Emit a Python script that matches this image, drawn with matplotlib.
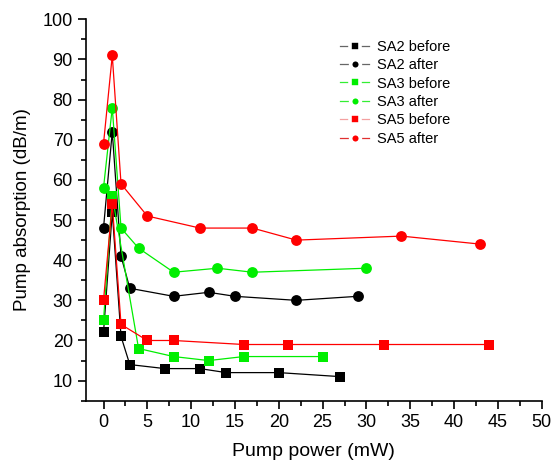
import matplotlib
matplotlib.use("Agg")
import matplotlib.pyplot as plt
from matplotlib.ticker import MultipleLocator
from matplotlib.lines import Line2D

plt.rcParams['font.family'] = ['Liberation Sans', 'DejaVu Sans']

sa2_before_x = [0, 1, 2, 3, 7, 11, 14, 20, 27]
sa2_before_y = [22, 52, 21, 14, 13, 13, 12, 12, 11]
sa2_after_x = [0, 1, 2, 3, 8, 12, 15, 22, 29]
sa2_after_y = [48, 72, 41, 33, 31, 32, 31, 30, 31]
sa3_before_x = [0, 1, 4, 8, 12, 16, 25]
sa3_before_y = [25, 56, 18, 16, 15, 16, 16]
sa3_after_x = [0, 1, 2, 4, 8, 13, 17, 30]
sa3_after_y = [58, 78, 48, 43, 37, 38, 37, 38]
sa5_before_x = [0, 1, 2, 5, 8, 16, 21, 32, 44]
sa5_before_y = [30, 54, 24, 20, 20, 19, 19, 19, 19]
sa5_after_x = [0, 1, 2, 5, 11, 17, 22, 34, 43]
sa5_after_y = [69, 91, 59, 51, 48, 48, 45, 46, 44]

labels = ["SA2 before", "SA2 after", "SA3 before", "SA3 after", "SA5 before", "SA5 after"]
colors = ["black", "black", "#00ee00", "#00ee00", "#ff0000", "#ff0000"]
legend_line_colors = ["#666666", "#666666", "#33ee33", "#33ee33", "#f4a0a0", "#e03030"]
markers = ["s", "o", "s", "o", "s", "o"]
series = [(sa2_before_x, sa2_before_y), (sa2_after_x, sa2_after_y),
          (sa3_before_x, sa3_before_y), (sa3_after_x, sa3_after_y),
          (sa5_before_x, sa5_before_y), (sa5_after_x, sa5_after_y)]

fig = plt.figure(figsize=(5.54, 4.66), dpi=100)
ax = fig.add_axes([0.1552, 0.1401, 0.8226, 0.8185])

handles = []
for (x, y), lab, c, lc, m in zip(series, labels, colors, legend_line_colors, markers):
    ax.plot(x, y, color=c, marker=m, markersize=7.3 if m == 's' else 7.8,
            linewidth=0.9, markeredgewidth=0)
    handles.append(Line2D([], [], color=lc, linewidth=0.9, marker=m,
                          markersize=6.6 if m == 's' else 7.0,
                          markerfacecolor=c, markeredgecolor='white',
                          markeredgewidth=2.6, label=lab))

ax.set_xlim(-2, 50)
ax.set_ylim(5, 100)
ax.xaxis.set_major_locator(MultipleLocator(5))
ax.xaxis.set_minor_locator(MultipleLocator(2.5))
ax.yaxis.set_major_locator(MultipleLocator(10))
ax.yaxis.set_minor_locator(MultipleLocator(5))
ax.set_yticks(range(10, 101, 10))
for s in ['top', 'right']:
    ax.spines[s].set_visible(False)
for s in ['left', 'bottom']:
    ax.spines[s].set_linewidth(1.2)
ax.tick_params(which='major', direction='out', length=6, width=1.2, labelsize=13)
ax.tick_params(which='minor', direction='out', length=3.5, width=1.2)
ax.set_xlabel("Pump power (mW)", fontsize=14, labelpad=9)
ax.set_ylabel("Pump absorption (dB/m)", fontsize=13.5, labelpad=8)

leg = ax.legend(handles=handles, loc='upper left', bbox_to_anchor=(0.529, 0.9806),
                frameon=False, fontsize=10.5, handlelength=2.0,
                labelspacing=0.3, handletextpad=0.55)

fig.savefig("out.png", dpi=100)
